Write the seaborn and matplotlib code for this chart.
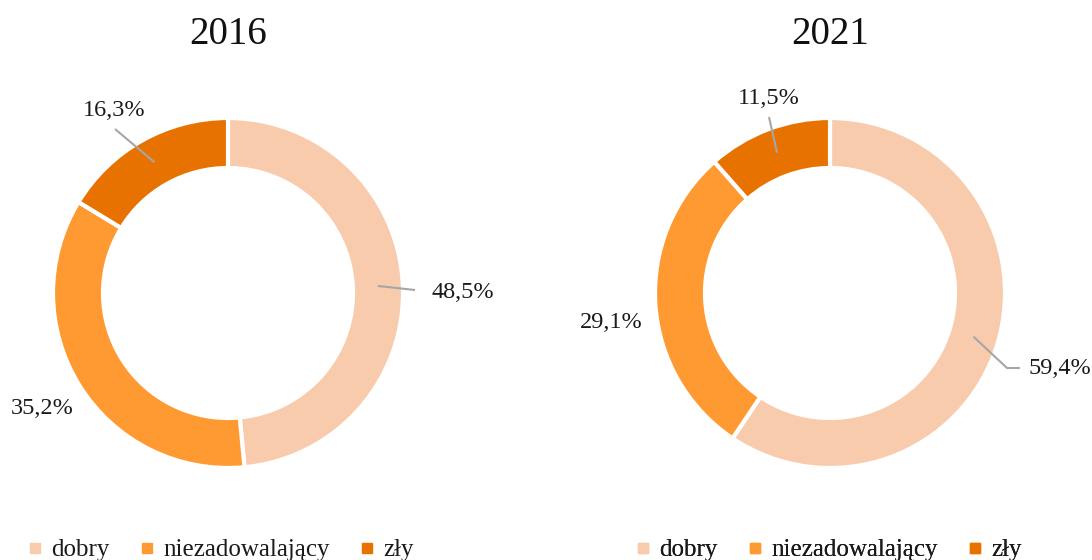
import numpy as np
import matplotlib
matplotlib.use("Agg")
import matplotlib.pyplot as plt
from matplotlib.lines import Line2D
import seaborn as sns

# ---- data ----
years = ["2016", "2021"]
categories = ["dobry", "niezadowalający", "zły"]
values_2016 = [48.5, 35.2, 16.3]
values_2021 = [59.4, 29.1, 11.5]
colors = ["#F8CBAD", "#FF9A33", "#E87200"]

sns.set_theme(style="white")
plt.rcParams["font.family"] = ["Liberation Serif", "DejaVu Serif"]

W, H = 1092, 560
fig = plt.figure(figsize=(W / 100, H / 100), dpi=100)
ax = fig.add_axes([0, 0, 1, 1])

def Y(y):
    return H - y

R_OUT, RING = 175, 50
centers = [(228, 293), (830, 293)]
palette = sns.color_palette(colors)

# label layout: (x, y, ha, leader path in px or None)
label_layout = {
    0: [((432, 292), "left", [(415, 290)]),
        ((11, 409), "left", None),
        ((83, 110), "left", [(115, 129)])],
    1: [((1029, 368), "left", [(1007, 368), (1020, 368)]),
        ((580, 322), "left", None),
        ((738, 98), "left", [(769, 117)])],
}

for i, (yr, vals) in enumerate(zip(years, [values_2016, values_2021])):
    cx, cy = centers[i]
    ax.pie(vals, colors=palette, startangle=90, counterclock=False,
           radius=R_OUT, center=(cx, Y(cy)),
           wedgeprops=dict(width=RING, edgecolor="white", linewidth=3))
    ax.text(cx, Y(35), yr, ha="center", va="center", fontsize=28, color="#111111")
    total = sum(vals)
    cum = 0
    for j, v in enumerate(vals):
        mid = (cum + v / 2) / total * 360.0
        cum += v
        (lx, ly), ha, path = label_layout[i][j]
        txt = f"{v:.1f}".replace(".", ",") + "%"
        ax.text(lx, Y(ly), txt, ha=ha, va="center", fontsize=17.5, color="#1a1a1a")
        if path is not None:
            rm = R_OUT - RING / 2
            sx = cx + rm * np.sin(np.radians(mid))
            sy = cy - rm * np.cos(np.radians(mid))
            pts = [(sx, sy)] + path
            ax.plot([p[0] for p in pts], [Y(p[1]) for p in pts],
                    color="#A6A6A6", lw=1.5, solid_capstyle="butt")

    handles = [Line2D([0], [0], marker="s", linestyle="none", markersize=7,
                      markerfacecolor=c, markeredgecolor=c) for c in palette]
    leg_cx = [222, 830][i]
    leg = ax.legend(handles, categories, loc="center", bbox_to_anchor=(leg_cx, Y(550)),
                    bbox_transform=ax.transData, ncol=3, frameon=False,
                    fontsize=18, handlelength=0.4, handletextpad=0.45,
                    columnspacing=1.3, borderpad=0)
    for t in leg.get_texts():
        t.set_color("#1a1a1a")
    ax.add_artist(leg)

ax.set_xlim(0, W)
ax.set_ylim(0, H)
ax.set_aspect("equal")
ax.axis("off")
fig.savefig("out.png", dpi=100, facecolor="white")
